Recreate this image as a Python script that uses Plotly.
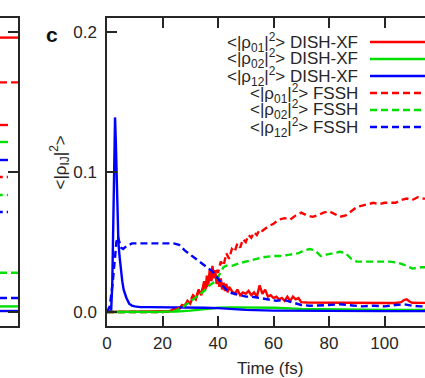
import plotly.graph_objects as go

# ---------------- data (panel c) ----------------
t_b12_dish = [0, 1, 1.5, 1.9, 2.3, 2.7, 2.9, 3.2, 3.5, 3.8, 4.1, 4.5, 5, 5.5, 6, 7, 8, 9, 10, 12, 15,
              20, 25, 30, 35, 40, 45, 50, 60, 70, 80, 90, 100, 110, 116]
v_b12_dish = [0, 0.0005, 0.001, 0.02, 0.08, 0.13, 0.139, 0.12, 0.09, 0.065, 0.05, 0.04, 0.03, 0.022,
              0.016, 0.01, 0.006, 0.0045, 0.004, 0.0035, 0.0035, 0.0035, 0.0033, 0.0032, 0.003, 0.0028,
              0.0022, 0.0015, 0.001, 0.0008, 0.0007, 0.0007, 0.0006, 0.0006, 0.0006]

t_r01_dish = [0, 10, 20, 22, 23, 24, 25, 26, 27, 28, 29, 30, 31, 32, 33, 34, 35, 35.5, 36, 36.5, 37,
              37.5, 38, 38.5, 39, 39.5, 40, 40.5, 41, 41.5, 42, 42.5, 43, 43.5, 44, 45, 46, 47, 48,
              49, 50, 51, 52, 53, 54, 55, 56, 57, 58, 59, 60, 61, 62, 63, 64, 65, 66, 67, 68, 69,
              70, 72, 75, 80, 85, 90, 95, 100, 104, 106, 107, 108, 109, 110, 113, 116]
v_r01_dish = [0, 0, 0, 0.0005, 0.001, 0.002, 0.003, 0.002, 0.005, 0.004, 0.008, 0.006, 0.011, 0.009,
              0.016, 0.012, 0.022, 0.016, 0.026, 0.019, 0.03, 0.022, 0.033, 0.024, 0.03, 0.02, 0.026,
              0.018, 0.024, 0.016, 0.021, 0.015, 0.02, 0.014, 0.018, 0.015, 0.013, 0.016, 0.012, 0.014,
              0.013, 0.015, 0.012, 0.014, 0.011, 0.019, 0.013, 0.016, 0.011, 0.012, 0.010, 0.011, 0.009,
              0.010, 0.008, 0.011, 0.008, 0.011, 0.009, 0.010, 0.007, 0.0068, 0.0067, 0.0066, 0.0066,
              0.0065, 0.0065, 0.0064, 0.0064, 0.007, 0.0085, 0.009, 0.0075, 0.0066, 0.0065, 0.0065]

t_g02_dish = [0, 20, 25, 30, 35, 40, 45, 50, 60, 70, 80, 90, 100, 116]
v_g02_dish = [0, 0, 0.0003, 0.001, 0.002, 0.003, 0.0033, 0.0033, 0.003, 0.0022, 0.0018, 0.0016,
              0.0015, 0.0014]

t_r01_fssh = [0, 20, 24, 26, 28, 30, 31, 32, 33, 34, 35, 36, 37, 38, 39, 40, 41, 42, 43, 44, 45, 46,
              47, 48, 49, 50, 51, 52, 53, 54, 55, 56, 58, 60, 62, 64, 66, 68, 70, 72, 74, 76, 78, 80,
              82, 84, 86, 88, 90, 92, 94, 96, 98, 100, 102, 104, 106, 108, 110, 112, 114, 116]
v_r01_fssh = [0, 0, 0.001, 0.003, 0.005, 0.008, 0.012, 0.01, 0.015, 0.013, 0.02, 0.018, 0.026, 0.022,
              0.031, 0.028, 0.036, 0.033, 0.042, 0.038, 0.045, 0.043, 0.049, 0.046, 0.052, 0.05, 0.055,
              0.053, 0.057, 0.055, 0.059, 0.058, 0.061, 0.063, 0.066, 0.067, 0.066, 0.069, 0.071,
              0.069, 0.068, 0.069, 0.071, 0.072, 0.07, 0.068, 0.069, 0.072, 0.075, 0.076, 0.077,
              0.078, 0.077, 0.078, 0.078, 0.078, 0.08, 0.081, 0.08, 0.082, 0.081, 0.081]

t_g02_fssh = [0, 20, 25, 27, 29, 31, 33, 35, 37, 39, 40, 41, 42, 43, 45, 48, 50, 53, 56, 60, 63, 66,
              69, 71, 73, 75, 77, 79, 81, 84, 86, 88, 90, 94, 98, 102, 105, 108, 110, 113, 116]
v_g02_fssh = [0, 0, 0.001, 0.003, 0.006, 0.009, 0.012, 0.015, 0.019, 0.022, 0.025, 0.029, 0.032,
              0.033, 0.033, 0.035, 0.036, 0.037, 0.039, 0.040, 0.040, 0.041, 0.042, 0.044, 0.045,
              0.044, 0.040, 0.041, 0.042, 0.043, 0.042, 0.038, 0.036, 0.036, 0.036, 0.036, 0.035,
              0.033, 0.031, 0.032, 0.032]

t_b12_fssh = [0, 1, 2, 2.8, 3.4, 3.9, 4.4, 5, 5.8, 7, 9, 12, 15, 18, 21, 24, 26, 28, 30, 32, 34, 36,
              38, 40, 42, 44, 46, 48, 50, 52, 55, 58, 61, 64, 67, 70, 73, 76, 80, 84, 88, 92, 96, 100,
              104, 107, 110, 113, 116]
v_b12_fssh = [0, 0.004, 0.02, 0.04, 0.05, 0.054, 0.05, 0.046, 0.045, 0.047, 0.049, 0.049, 0.049,
              0.049, 0.049, 0.049, 0.048, 0.044, 0.041, 0.038, 0.035, 0.032, 0.029, 0.024, 0.018,
              0.014, 0.013, 0.012, 0.011, 0.011, 0.010, 0.009, 0.008, 0.0085, 0.007, 0.005, 0.0045,
              0.0045, 0.005, 0.0055, 0.0045, 0.004, 0.0045, 0.004, 0.005, 0.0055, 0.0045, 0.004, 0.0045]

# tail ends of the neighbouring (cropped) panel
prev_t = [0, 1]
prev_r_solid = [0.196, 0.196]
prev_r_dash = [0.164, 0.164]
prev_g_dash = [0.028, 0.028]
prev_b_dash = [0.010, 0.010]
prev_g_solid = [0.004, 0.004]
prev_b_solid = [0.0007, 0.0007]

x_ticks = [0, 20, 40, 60, 80, 100, 120]
y_ticks = [0.0, 0.1, 0.2]
y_tick_labels = ["0.0", "0.1", "0.2"]

legend_labels = [
    "&lt;|ρ<sub>01</sub>|<sup>2</sup>&gt; DISH-XF",
    "&lt;|ρ<sub>02</sub>|<sup>2</sup>&gt; DISH-XF",
    "&lt;|ρ<sub>12</sub>|<sup>2</sup>&gt; DISH-XF",
    "&lt;|ρ<sub>01</sub>|<sup>2</sup>&gt; FSSH",
    "&lt;|ρ<sub>02</sub>|<sup>2</sup>&gt; FSSH",
    "&lt;|ρ<sub>12</sub>|<sup>2</sup>&gt; FSSH",
]

# ---------------- styling ----------------
RED, GREEN, BLUE = "#ff0000", "#00e000", "#0000ff"
DASH = "7px,4px"
LW = 2.4
W, H = 425, 378
FONT = "Liberation Sans, Arial, sans-serif"
TXT = "#262626"
AX = "#262626"

def py(p):  # pixel-from-top -> paper
    return 1 - p / H

def px(p):
    return p / W

fig = go.Figure()

series = [
    (t_r01_dish, v_r01_dish, RED, "solid"),
    (t_g02_dish, v_g02_dish, GREEN, "solid"),
    (t_b12_dish, v_b12_dish, BLUE, "solid"),
    (t_r01_fssh, v_r01_fssh, RED, DASH),
    (t_g02_fssh, v_g02_fssh, GREEN, DASH),
    (t_b12_fssh, v_b12_fssh, BLUE, DASH),
]
for tt, vv, c, d in series:
    fig.add_trace(go.Scatter(x=tt, y=vv, mode="lines", line=dict(color=c, width=LW, dash=d),
                             showlegend=False, xaxis="x", yaxis="y"))

prev_series = [
    (prev_r_solid, RED, "solid"), (prev_r_dash, RED, DASH), (prev_g_dash, GREEN, DASH),
    (prev_b_dash, BLUE, DASH), (prev_g_solid, GREEN, "solid"), (prev_b_solid, BLUE, "solid"),
]
for vv, c, d in prev_series:
    fig.add_trace(go.Scatter(x=prev_t, y=vv, mode="lines", line=dict(color=c, width=LW, dash=d),
                             showlegend=False, xaxis="x2", yaxis="y2"))

ydom = [py(326), py(18)]
fig.update_layout(
    width=W, height=H, margin=dict(l=0, r=0, t=0, b=0),
    paper_bgcolor="white", plot_bgcolor="white",
    font=dict(family=FONT, size=17, color=TXT),
    xaxis=dict(domain=[px(107), 1], range=[0, (425 - 107) / 2.775], tickvals=x_ticks,
               ticks="inside", ticklen=10, tickwidth=1.5, tickcolor=AX, showline=True,
               linecolor=AX, linewidth=1.5, mirror="ticks", showgrid=False, zeroline=False,
               anchor="y", automargin=False, ticklabelstandoff=1),
    yaxis=dict(domain=ydom, range=[-0.01, 0.21], tickvals=y_ticks, ticktext=y_tick_labels,
               ticks="inside", ticklen=10, tickwidth=1.5, tickcolor=AX, showline=True,
               linecolor=AX, linewidth=1.5, mirror=False, showgrid=False, zeroline=False,
               anchor="x", automargin=False, ticklabelstandoff=5),
    xaxis2=dict(domain=[0, px(18)], range=[0, 1], showline=True, mirror=True, linecolor=AX,
                linewidth=1.5, ticks="", showticklabels=False, showgrid=False, zeroline=False,
                anchor="y2", automargin=False),
    yaxis2=dict(domain=ydom, range=[-0.01, 0.21], side="right", tickvals=y_ticks, ticks="inside",
                ticklen=10, tickwidth=1.5, tickcolor=AX, showticklabels=False, showline=True,
                linecolor=AX, linewidth=1.5, showgrid=False, zeroline=False, anchor="x2",
                automargin=False),
)

annotations = [
    dict(text="<b>c</b>", x=px(44), y=py(34), xref="paper", yref="paper", showarrow=False,
         yanchor="middle", font=dict(size=21, color="#111")),
    dict(text="&lt;|ρ<sub>IJ</sub>|<sup>2</sup>&gt;", textangle=-90, x=px(46), y=py(163),
         xref="paper", yref="paper", showarrow=False, yanchor="middle", font=dict(size=17)),
    dict(text="Time (fs)", x=px(270), y=py(368), xref="paper", yref="paper", showarrow=False,
         yanchor="middle", font=dict(size=17)),
]
row_y = [42, 59, 76, 93, 110, 127]
for lab, ry in zip(legend_labels, row_y):
    annotations.append(dict(text=lab, x=px(360), y=py(ry), xref="paper", yref="paper",
                            xanchor="right", yanchor="middle", showarrow=False,
                            font=dict(size=17)))
fig.update_layout(annotations=annotations)

shapes = []
key_styles = [(RED, "solid"), (GREEN, "solid"), (BLUE, "solid"), (RED, DASH), (GREEN, DASH), (BLUE, DASH)]
for (c, d), ry in zip(key_styles, row_y):
    shapes.append(dict(type="line", xref="paper", yref="paper", x0=px(370), x1=1.05,
                       y0=py(ry), y1=py(ry), line=dict(color=c, width=LW, dash=d)))
# legend keys of the cropped neighbouring panel
prev_keys = [(RED, "solid", 125), (GREEN, "solid", 142), (BLUE, "solid", 160),
             (RED, DASH, 177), (GREEN, DASH, 195), (BLUE, DASH, 212)]
for c, d, ry in prev_keys:
    shapes.append(dict(type="line", xref="paper", yref="paper", x0=-0.01, x1=px(8),
                       y0=py(ry), y1=py(ry), line=dict(color=c, width=LW, dash=d)))
fig.update_layout(shapes=shapes)

fig.write_html("out.html", config={"displayModeBar": False},
               post_script="document.body.style.margin='0';document.body.style.overflow='hidden';")
